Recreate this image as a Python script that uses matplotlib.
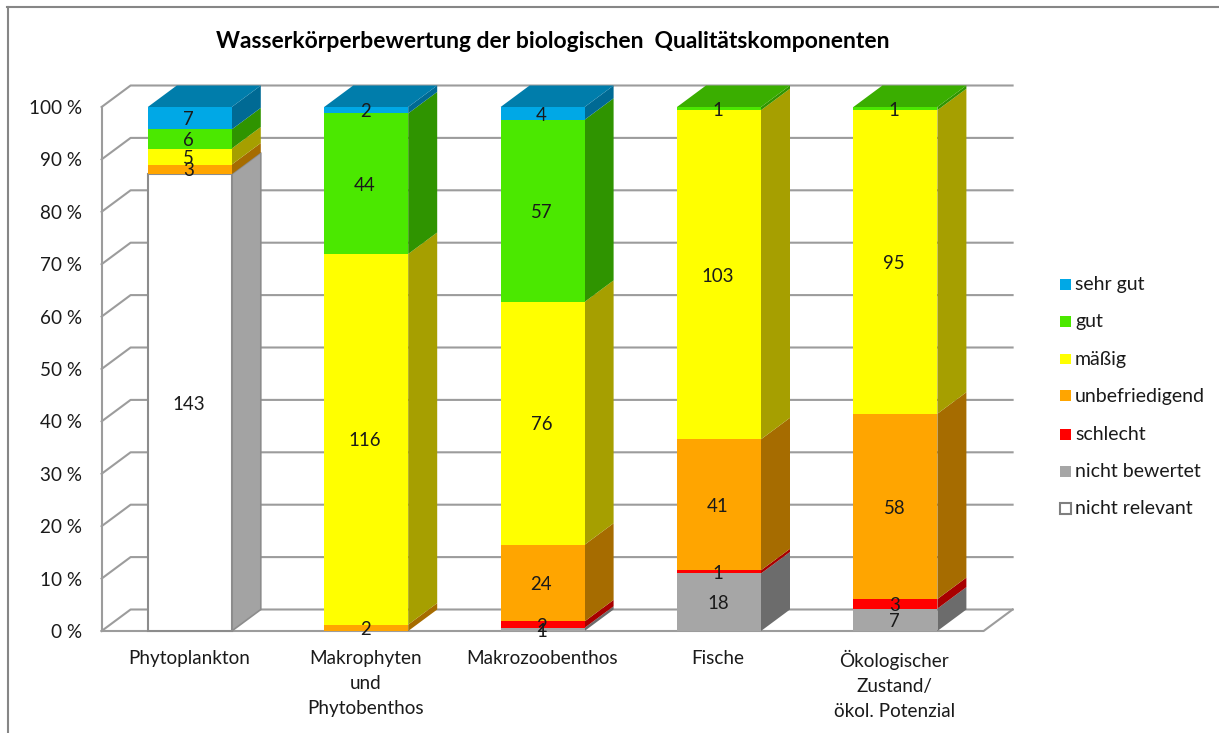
import matplotlib
matplotlib.use('Agg')
from matplotlib import pyplot as plt
from matplotlib.patches import Polygon, Rectangle
from matplotlib.lines import Line2D
from matplotlib.transforms import ScaledTranslation
import numpy as np

plt.rcParams['font.family'] = ['Lato', 'DejaVu Sans']

categories = ['Phytoplankton', 'Makrophyten\nund\nPhytobenthos', 'Makrozoobenthos', 'Fische',
              'Ökologischer\nZustand/\nökol. Potenzial']

# bottom to top of the stack
nicht_relevant = [143, 0, 0, 0, 0]
nicht_bewertet = [0, 0, 1, 18, 7]
schlecht = [0, 0, 2, 1, 3]
unbefriedigend = [3, 2, 24, 41, 58]
maessig = [5, 116, 76, 103, 95]
gut = [6, 44, 57, 1, 1]
sehr_gut = [7, 2, 4, 0, 0]

series = [nicht_relevant, nicht_bewertet, schlecht, unbefriedigend, maessig, gut, sehr_gut]
names = ['nicht relevant', 'nicht bewertet', 'schlecht', 'unbefriedigend', 'mäßig', 'gut', 'sehr gut']
front = ['#FFFFFF', '#A6A6A6', '#FF0000', '#FFA500', '#FFFF00', '#4BE800', '#00A8E6']
side = ['#A3A3A3', '#6C6C6C', '#A80000', '#A66C00', '#A69F00', '#2F9400', '#006A94']
top = ['#C0C0C0', '#808080', '#C00000', '#C07D00', '#C0C000', '#3AAE00', '#007DAB']

W, H = 1219, 733
fig = plt.figure(figsize=(W / 100, H / 100), dpi=100)

# frame of the chart area, only top and left are in the picture
fig.add_artist(Line2D([7.5 / W, 7.5 / W], [0, 1 - 7 / H], color='#868686', lw=1.5))
fig.add_artist(Line2D([7 / W, 1], [1 - 7 / H, 1 - 7 / H], color='#868686', lw=1.5))

ax = fig.add_axes([101.6 / W, (H - 631) / H, 882 / W, 524 / H])
ax.set_xlim(-0.5, 4.5)
ax.set_ylim(0, 100)
for s in ax.spines.values():
    s.set_visible(False)
ax.patch.set_alpha(0)

# depth of the fake 3d in data units
dx = 29 / 176.4
dy = 21.5 / 5.24
bar_w = 84 / 176.4
grid_c = '#9C9C9C'

for t in range(0, 101, 10):
    ax.plot([-0.5, -0.5 + dx, 4.5 + dx], [t, t + dy, t + dy], color=grid_c, lw=1.5, clip_on=False, zorder=1)
ax.plot([-0.5, -0.5], [0, 100], color=grid_c, lw=1.5, zorder=1, clip_on=False)
ax.plot([-0.5, 4.5, 4.5 + dx], [0, 0, dy], color=grid_c, lw=1.5, zorder=1, clip_on=False)

totals = np.sum(series, axis=0)
bottom = np.zeros(len(categories))
for i, vals in enumerate(series):
    pct = np.array(vals) / totals * 100
    for c in range(len(categories)):
        if vals[c] == 0:
            continue
        x0 = c - bar_w / 2
        x1 = c + bar_w / 2
        y0 = bottom[c]
        y1 = y0 + pct[c]
        ec = '#8C8C8C' if i == 0 else 'none'
        ax.add_patch(Polygon([(x1, y0), (x1 + dx, y0 + dy), (x1 + dx, y1 + dy), (x1, y1)],
                             fc=side[i], ec=ec, lw=1.2, zorder=3 + c, clip_on=False))
        ax.add_patch(Rectangle((x0, y0), bar_w, pct[c], fc=front[i], ec=ec, lw=1.5, zorder=3 + c, clip_on=False))
        if y1 > 99.9:
            ax.add_patch(Polygon([(x0, y1), (x0 + dx, y1 + dy), (x1 + dx, y1 + dy), (x1, y1)],
                                 fc=top[i], ec='none', zorder=3 + c, clip_on=False))
        ax.annotate(str(vals[c]), (c, y0 + pct[c] / 2), xytext=(-0.8, -1.2), textcoords='offset points',
                    ha='center', va='center', fontsize=13.4, color='#1A1A1A', zorder=20, annotation_clip=False)
    bottom = bottom + pct

ax.set_yticks(range(0, 101, 10))
ax.set_yticklabels(['%d %%' % t for t in range(0, 101, 10)], fontsize=13.6, color='#1A1A1A')
ax.tick_params(axis='y', length=0, pad=14)
ax.set_xticks(range(len(categories)))
ax.set_xticklabels(categories, fontsize=13.6, color='#1A1A1A', linespacing=1.58)
ax.tick_params(axis='x', length=0, pad=13.5)
for lab in ax.get_xticklabels():
    lab.set_transform(lab.get_transform() + ScaledTranslation(-1 / 100, 0, fig.dpi_scale_trans))

fig.text(553 / W, 1 - 41 / H, 'Wasserkörperbewertung der biologischen  Qualitätskomponenten', ha='center',
         va='center', fontsize=16.5, fontweight='bold', color='black')

# legend by hand so the squares sit where they do in the original
leg_y = [284, 321, 359, 396, 434, 471, 508]
for name, f, yy in zip(names[::-1], front[::-1], leg_y):
    ec = '#7F7F7F' if f == '#FFFFFF' else 'none'
    fig.add_artist(Rectangle((1060 / W, 1 - (yy + 5.5) / H), 11 / W, 11 / H, fc=f, ec=ec, lw=1.5,
                             transform=fig.transFigure))
    fig.text(1075 / W, 1 - (yy + 0.8) / H, name, ha='left', va='center', fontsize=14, color='#1A1A1A')

fig.savefig('out.png', dpi=100)
